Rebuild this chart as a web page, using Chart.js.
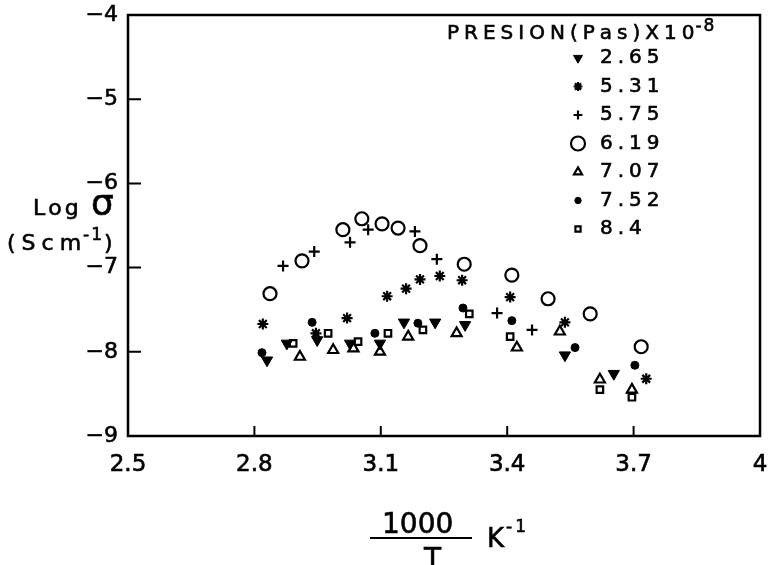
<!DOCTYPE html>
<html>
<head>
<meta charset="utf-8">
<script src="https://cdn.jsdelivr.net/npm/chart.js@4/dist/chart.umd.min.js"></script>
<style>
  html, body { margin: 0; padding: 0; background: #fff; }
  #box { width: 769px; height: 565px; }
</style>
</head>
<body>
<div id="box"><canvas id="condChart"></canvas></div>
<script>
// tick labels
const xTickLabels = ['2.5', '2.8', '3.1', '3.4', '3.7', '4'];
const yTickLabels = ['\u22129', '\u22128', '\u22127', '\u22126', '\u22125', '\u22124'];

// pressure series (Pas x 10^-8): 1000/T and log sigma
const x265 = [2.83, 2.877, 2.949, 3.027, 3.098, 3.155, 3.229, 3.30, 3.537, 3.653];
const y265 = [-8.10, -7.90, -7.86, -7.90, -7.90, -7.65, -7.65, -7.68, -8.04, -8.26];

const x531 = [2.82, 2.946, 3.02, 3.115, 3.16, 3.193, 3.24, 3.293, 3.407, 3.537, 3.73];
const y531 = [-7.67, -7.78, -7.60, -7.34, -7.25, -7.14, -7.10, -7.15, -7.35, -7.65, -8.32];

const x575 = [2.868, 2.942, 3.027, 3.07, 3.181, 3.233, 3.376, 3.459];
const y575 = [-6.98, -6.81, -6.70, -6.55, -6.57, -6.90, -7.54, -7.74];

const x619 = [2.837, 2.913, 3.01, 3.055, 3.103, 3.141, 3.193, 3.298, 3.411, 3.497, 3.597, 3.718];
const y619 = [-7.31, -6.92, -6.55, -6.42, -6.48, -6.53, -6.74, -6.96, -7.09, -7.37, -7.55, -7.94];

const x707 = [2.908, 2.987, 3.035, 3.098, 3.165, 3.28, 3.423, 3.525, 3.62, 3.696];
const y707 = [-8.06, -7.98, -7.96, -8.00, -7.82, -7.78, -7.95, -7.76, -8.33, -8.45];

const x752 = [2.818, 2.937, 3.086, 3.188, 3.295, 3.411, 3.561, 3.703];
const y752 = [-8.01, -7.65, -7.78, -7.66, -7.48, -7.63, -7.95, -8.16];

const x84 = [2.892, 2.975, 3.046, 3.117, 3.20, 3.31, 3.407, 3.62, 3.696];
const y84 = [-7.90, -7.78, -7.88, -7.78, -7.74, -7.55, -7.82, -8.45, -8.54];

const toPoints = (xs, ys) => xs.map((x, i) => ({ x: x, y: ys[i] }));

const FONT = "'DejaVu Sans', sans-serif";

// text drawn char by char with extra spacing, slightly stroked to look inked
function spacedText(ctx, str, x, y, gap) {
    for (const ch of str) {
        ctx.fillText(ch, x, y);
        ctx.strokeText(ch, x, y);
        x += ctx.measureText(ch).width + gap;
    }
    return x;
}

function drawMarker(ctx, ds, x, y, r) {
    ctx.save();
    ctx.fillStyle = ds.pointBackgroundColor;
    ctx.strokeStyle = ds.pointBorderColor;
    ctx.lineWidth = ds.pointBorderWidth;
    Chart.helpers.drawPoint(ctx, {
        pointStyle: ds.pointStyle,
        rotation: ds.pointRotation || 0,
        radius: r,
        borderWidth: ds.pointBorderWidth
    }, x, y);
    ctx.restore();
}

// box frame and inward tick marks
const framePlugin = {
    id: 'frame',
    beforeDatasetsDraw(chart) {
        const ctx = chart.ctx;
        const a = chart.chartArea;
        const xs = chart.scales.x, ys = chart.scales.y;
        ctx.save();
        ctx.strokeStyle = '#000';
        ctx.lineWidth = 2.5;
        ctx.strokeRect(a.left, a.top, a.right - a.left, a.bottom - a.top);
        ctx.lineWidth = 2;
        ctx.beginPath();
        xs.ticks.forEach(t => {
            const px = xs.getPixelForValue(t.value);
            ctx.moveTo(px, a.bottom);
            ctx.lineTo(px, a.bottom - 10);
        });
        ys.ticks.forEach(t => {
            const py = ys.getPixelForValue(t.value);
            ctx.moveTo(a.left, py);
            ctx.lineTo(a.left + 13, py);
        });
        ctx.stroke();
        ctx.restore();
    }
};

// axis titles and pressure legend
const textPlugin = {
    id: 'texts',
    afterDraw(chart) {
        const ctx = chart.ctx;
        const a = chart.chartArea;
        ctx.save();
        ctx.fillStyle = '#000';
        ctx.strokeStyle = '#000';
        ctx.lineWidth = 0.6;
        ctx.textBaseline = 'alphabetic';
        ctx.textAlign = 'left';

        // y title
        ctx.font = '22px ' + FONT;
        spacedText(ctx, 'Log', 33, 215, 3);
        ctx.font = '36px ' + FONT;
        spacedText(ctx, 'σ', 91, 215, 0);
        ctx.font = '22px ' + FONT;
        let x = spacedText(ctx, '(Scm', 7, 250, 6);
        ctx.font = '17px ' + FONT;
        x = spacedText(ctx, '-1', x - 4, 240, 2);
        ctx.font = '22px ' + FONT;
        spacedText(ctx, ')', x, 250, 0);

        // x title
        const cx = a.left + 293;
        ctx.font = '28px ' + FONT;
        spacedText(ctx, '1000', cx - 39, 533, 0);
        spacedText(ctx, 'T', cx + 3, 568, 0);
        ctx.lineWidth = 2;
        ctx.beginPath();
        ctx.moveTo(cx - 51, 538);
        ctx.lineTo(cx + 51, 538);
        ctx.stroke();
        ctx.lineWidth = 0.6;
        ctx.font = '26px ' + FONT;
        spacedText(ctx, 'K', cx + 66, 547, 0);
        ctx.font = '17px ' + FONT;
        spacedText(ctx, '-1', cx + 85, 532, 3);

        // legend
        ctx.font = '20px ' + FONT;
        ctx.textBaseline = 'middle';
        x = spacedText(ctx, 'PRESION(Pas)X10', a.left + 319, a.top + 19, 5);
        ctx.font = '17px ' + FONT;
        spacedText(ctx, '-8', x - 4, a.top + 12, 2);
        ctx.font = '20px ' + FONT;
        chart.data.datasets.forEach((ds, i) => {
            const ry = a.top + 43 + i * 28.5;
            const r = ds.pointStyle === 'circle' && ds.pointRadius > 5 ? 7 : ds.pointRadius * 0.8;
            drawMarker(ctx, ds, a.left + 450, ry, r);
            spacedText(ctx, ds.label, a.left + 472, ry, 5);
        });
        ctx.restore();
    }
};

const noEdgePadding = s => {
    s.paddingLeft = 0; s.paddingRight = 0;
    s.paddingTop = 0; s.paddingBottom = 0;
};

const ctx = document.getElementById('condChart').getContext('2d');
new Chart(ctx, {
    type: 'scatter',
    data: {
        datasets: [
            {
                label: '2.65',
                data: toPoints(x265, y265),
                pointStyle: 'triangle', pointRotation: 180, pointRadius: 6.5,
                pointBackgroundColor: '#000', pointBorderColor: '#000', pointBorderWidth: 1
            },
            {
                label: '5.31',
                data: toPoints(x531, y531),
                pointStyle: 'star', pointRadius: 5.5,
                pointBackgroundColor: '#000', pointBorderColor: '#000', pointBorderWidth: 2.2
            },
            {
                label: '5.75',
                data: toPoints(x575, y575),
                pointStyle: 'cross', pointRadius: 5.5,
                pointBackgroundColor: '#000', pointBorderColor: '#000', pointBorderWidth: 2.2
            },
            {
                label: '6.19',
                data: toPoints(x619, y619),
                pointStyle: 'circle', pointRadius: 6.5,
                pointBackgroundColor: 'rgba(0,0,0,0)', pointBorderColor: '#000', pointBorderWidth: 2.2
            },
            {
                label: '7.07',
                data: toPoints(x707, y707),
                pointStyle: 'triangle', pointRadius: 5.8,
                pointBackgroundColor: 'rgba(0,0,0,0)', pointBorderColor: '#000', pointBorderWidth: 2.2
            },
            {
                label: '7.52',
                data: toPoints(x752, y752),
                pointStyle: 'circle', pointRadius: 4,
                pointBackgroundColor: '#000', pointBorderColor: '#000', pointBorderWidth: 1
            },
            {
                label: '8.4',
                data: toPoints(x84, y84),
                pointStyle: 'rect', pointRadius: 4.6,
                pointBackgroundColor: 'rgba(0,0,0,0)', pointBorderColor: '#000', pointBorderWidth: 2.2
            }
        ]
    },
    options: {
        responsive: true,
        maintainAspectRatio: false,
        animation: false,
        layout: { padding: { left: 0, right: 9, top: 15, bottom: 0 } },
        plugins: {
            legend: { display: false },
            tooltip: { enabled: false }
        },
        scales: {
            x: {
                type: 'linear',
                min: 2.5,
                max: 4,
                grid: { display: false, drawTicks: false },
                border: { display: false },
                ticks: {
                    stepSize: 0.3,
                    autoSkip: false,
                    maxRotation: 0,
                    padding: 15,
                    color: '#000',
                    textStrokeColor: '#000',
                    textStrokeWidth: 0.6,
                    font: { family: FONT, size: 23 },
                    callback: (v, i) => xTickLabels[i]
                },
                afterFit: s => { s.height = 129; noEdgePadding(s); }
            },
            y: {
                type: 'linear',
                min: -9,
                max: -4,
                grid: { display: false, drawTicks: false },
                border: { display: false },
                ticks: {
                    stepSize: 1,
                    padding: 10,
                    color: '#000',
                    textStrokeColor: '#000',
                    textStrokeWidth: 0.6,
                    font: { family: FONT, size: 22 },
                    callback: (v, i) => yTickLabels[i]
                },
                afterFit: s => { s.width = 128; noEdgePadding(s); }
            }
        }
    },
    plugins: [framePlugin, textPlugin]
});
</script>
</body>
</html>
